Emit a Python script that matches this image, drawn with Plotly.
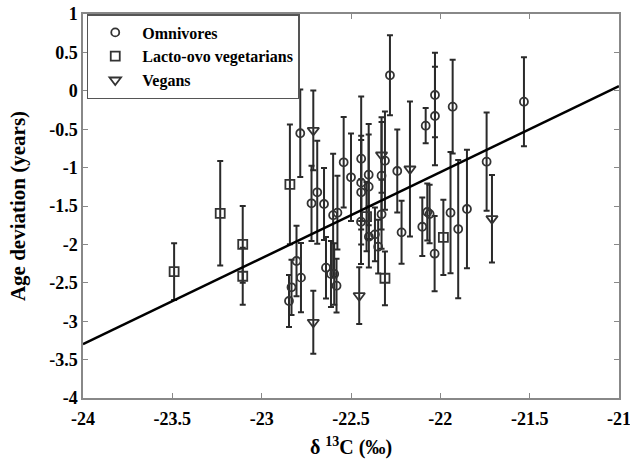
import plotly.graph_objects as go

# Omnivores
omn_x = [-22.784, -22.689, -22.721, -22.651, -22.576, -22.600, -22.541, -22.500, -22.443, -22.443,
         -22.443, -22.401, -22.401, -22.329, -22.310, -22.282, -22.241, -22.082, -22.030, -22.030,
         -21.931, -21.741, -21.532, -21.943, -21.900, -21.851, -22.101, -22.073, -22.060, -22.032,
         -22.217, -22.444, -22.400, -22.366, -22.348, -22.329, -22.805, -22.780, -22.833, -22.847,
         -22.640, -22.612, -22.594, -22.581]
omn_y = [-0.553, -1.322, -1.465, -1.474, -1.587, -1.620, -0.931, -1.126, -0.884, -1.196,
         -1.322, -1.092, -1.249, -1.105, -0.910, 0.202, -1.044, -0.454, -0.055, -0.328,
         -0.207, -0.923, -0.142, -1.587, -1.800, -1.539, -1.770, -1.578, -1.604, -2.121,
         -1.843, -1.704, -1.900, -1.869, -2.030, -1.608, -2.216, -2.433, -2.559, -2.737,
         -2.303, -2.385, -2.385, -2.538]
omn_err = [0.57, 0.67, 0.49, 0.47, 0.48, 0.80, 0.59, 0.57, 0.81, 0.61,
           0.68, 0.66, 0.68, 0.70, 0.64, 0.52, 0.54, 0.23, 0.55, 0.64,
           0.61, 0.64, 0.58, 0.79, 0.90, 0.77, 0.38, 0.37, 0.38, 0.49,
           0.41, 0.55, 0.40, 0.35, 0.35, 0.45, 0.46, 0.45, 0.36, 0.34,
           0.40, 0.43, 0.40, 0.35]

# Lacto-ovo vegetarians
lov_x = [-23.490, -23.232, -23.106, -23.106, -22.842, -22.413, -22.310, -21.983]
lov_y = [-2.355, -1.595, -2.000, -2.415, -1.218, -1.639, -2.441, -1.908]
lov_err = [0.37, 0.68, 0.50, 0.37, 0.78, 0.45, 0.35, 0.49]

# Vegans
veg_x = [-22.711, -22.329, -22.170, -21.711, -22.711, -22.454]
veg_y = [-0.515, -0.836, -1.018, -1.665, -3.014, -2.668]
veg_err = [0.52, 0.49, 0.88, 0.57, 0.41, 0.37]

# Regression line (end values)
fit_x = [-24, -21]
fit_y = [-3.30, 0.06]

x_ticks = [-24, -23.5, -23, -22.5, -22, -21.5, -21]
x_labels = ["-24", "-23.5", "-23", "-22.5", "-22", "-21.5", "-21"]
y_ticks = [1, 0.5, 0, -0.5, -1, -1.5, -2, -2.5, -3, -3.5, -4]
y_labels = ["1", "0.5", "0", "-0.5", "-1", "-1.5", "-2", "-2.5", "-3", "-3.5", "-4"]

FONT = "Liberation Serif"
MK = "#333333"

def err(e):
    return dict(type="data", array=e, visible=True, color="#2a2a2a", thickness=2, width=3)

fig = go.Figure()
fig.add_trace(go.Scatter(x=omn_x, y=omn_y, mode="markers", name="Omnivores",
                         error_y=err(omn_err),
                         marker=dict(symbol="circle-open", size=8, color=MK, line=dict(width=1.8))))
fig.add_trace(go.Scatter(x=lov_x, y=lov_y, mode="markers", name="Lacto-ovo vegetarians",
                         error_y=err(lov_err),
                         marker=dict(symbol="square-open", size=9, color=MK, line=dict(width=1.8))))
fig.add_trace(go.Scatter(x=veg_x, y=veg_y, mode="markers", name="Vegans",
                         error_y=err(veg_err),
                         marker=dict(symbol="triangle-down-open", size=10, color=MK, line=dict(width=1.8))))
fig.add_trace(go.Scatter(x=fit_x, y=fit_y, mode="lines", showlegend=False,
                         line=dict(color="black", width=2.5)))

axis_common = dict(showgrid=False, zeroline=False, showline=True, linecolor="#888888", linewidth=1.5,
                   mirror="ticks", ticks="inside", ticklen=5, tickcolor="#888888", tickwidth=1.2,
                   ticklabeloverflow="allow", automargin=False,
                   tickfont=dict(family=FONT, size=18, color="black"))

fig.update_layout(
    width=630, height=467,
    margin=dict(l=83, r=11, t=14, b=69),
    paper_bgcolor="white", plot_bgcolor="white",
    font=dict(family=FONT, color="black"),
    xaxis=dict(range=[-24, -21], tickvals=x_ticks, ticktext=[f"<b>{t}</b>" for t in x_labels],
               ticklabelstandoff=4,
               title=dict(text="<b>δ <sup>13</sup>C (‰)</b>", font=dict(family=FONT, size=20), standoff=12),
               **axis_common),
    yaxis=dict(range=[-4, 1], tickvals=y_ticks, ticktext=[f"<b>{t}</b>" for t in y_labels],
               title=dict(text="<b>Age deviation (years)</b>", font=dict(family=FONT, size=21), standoff=18),
               **axis_common),
    legend=dict(x=0.007, y=1, xanchor="left", yanchor="top", bgcolor="white",
                bordercolor="#555555", borderwidth=1.5,
                font=dict(family=FONT, size=16, color="black"), itemwidth=44, tracegroupgap=0),
    showlegend=True,
)
fig.for_each_trace(lambda t: t.update(name=f"<b>{t.name}</b>") if t.name else None)

# remove the page's default 8px body margin so the figure sits at the window origin
fig.write_html("out.html", config={"displayModeBar": False},
               post_script="document.body.style.margin='0';")
